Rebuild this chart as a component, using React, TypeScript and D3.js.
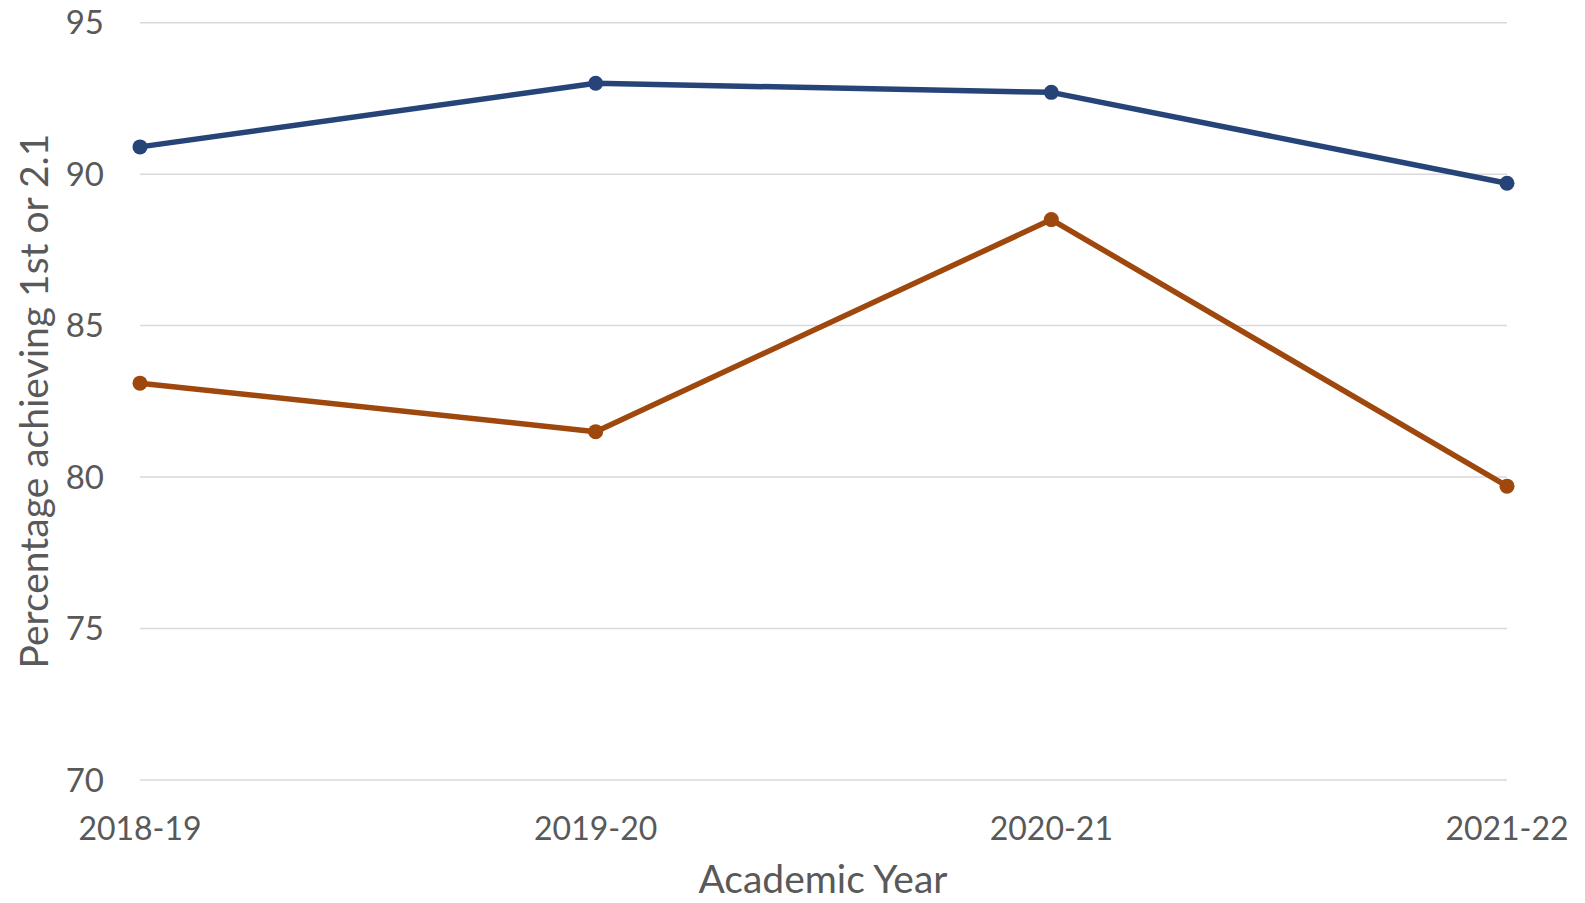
import React from "react";
import * as d3 from "d3";

const categories = ["2018-19", "2019-20", "2020-21", "2021-22"];
const seriesBlue = [90.9, 93.0, 92.7, 89.7];
const seriesOrange = [83.1, 81.5, 88.5, 79.7];
const yTicks = [70, 75, 80, 85, 90, 95];
const xTitle = "Academic Year";
const yTitle = "Percentage achieving 1st or 2.1";

const W = 1585;
const H = 903;
const FONT = "Lato, 'Open Sans', sans-serif";
const TEXT = "#595959";

export default function App() {
  const x = d3.scalePoint<string>().domain(categories).range([140, 1507]);
  const y = d3.scaleLinear().domain([70, 95]).range([780, 22.7]);
  const line = d3
    .line<number>()
    .x((_, i) => x(categories[i]) as number)
    .y((d) => y(d));

  const series = [
    { values: seriesBlue, color: "#264478" },
    { values: seriesOrange, color: "#9E480E" },
  ];

  return (
    <svg
      width={W}
      height={H}
      style={{ position: "absolute", left: 0, top: 0, background: "#fff" }}
    >
      {yTicks.map((t) => (
        <g key={t}>
          <line x1={140} x2={1507} y1={y(t)} y2={y(t)} stroke="#d9d9d9" strokeWidth={1.5} />
          <text
            x={104}
            y={y(t)}
            dy="0.35em"
            textAnchor="end"
            fontFamily={FONT}
            fontSize={33}
            fill={TEXT}
          >
            {t}
          </text>
        </g>
      ))}
      {categories.map((c) => (
        <text
          key={c}
          x={x(c) as number}
          y={840}
          textAnchor="middle"
          fontFamily={FONT}
          fontSize={32}
          fill={TEXT}
        >
          {c}
        </text>
      ))}
      {series.map((s, si) => (
        <g key={si}>
          <path
            d={line(s.values) || ""}
            fill="none"
            stroke={s.color}
            strokeWidth={5.5}
            strokeLinejoin="round"
            strokeLinecap="round"
          />
          {s.values.map((v, i) => (
            <circle key={i} cx={x(categories[i]) as number} cy={y(v)} r={7.5} fill={s.color} />
          ))}
        </g>
      ))}
      <text
        x={823}
        y={893}
        textAnchor="middle"
        fontFamily={FONT}
        fontSize={39}
        fill={TEXT}
      >
        {xTitle}
      </text>
      <text
        transform={`translate(48, 401) rotate(-90)`}
        textAnchor="middle"
        fontFamily={FONT}
        fontSize={39}
        fill={TEXT}
      >
        {yTitle}
      </text>
    </svg>
  );
}
